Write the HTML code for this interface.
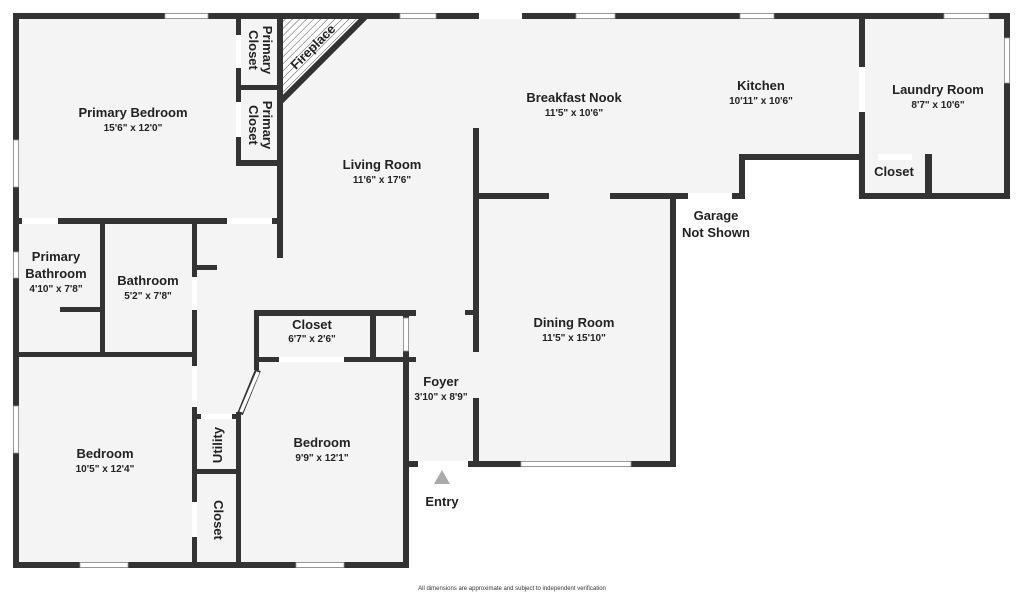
<!DOCTYPE html>
<html><head><meta charset="utf-8"><style>
html,body{margin:0;padding:0;background:#fff;}
svg{display:block;}
text{font-family:"Liberation Sans",sans-serif;font-weight:bold;fill:#222;text-anchor:middle;}
.n{font-size:13px;}
.d{font-size:10px;}
</style></head><body>
<svg width="1024" height="594" viewBox="0 0 1024 594" xmlns="http://www.w3.org/2000/svg">
<defs>
<pattern id="h" width="5" height="5" patternUnits="userSpaceOnUse" patternTransform="rotate(45)">
<rect width="5" height="5" fill="#fff"/><line x1="0" y1="0" x2="0" y2="5" stroke="#555" stroke-width="1"/>
</pattern>
</defs>
<polygon points="13,13 1010,13 1010,198 858,198 858,157 741,157 741,198 672,198 672,466 408,466 408,568 13,568" fill="#f4f4f4"/>
<g fill="#333">
<!-- outer -->
<rect x="13" y="13" width="997" height="6"/>
<rect x="1004" y="13" width="6" height="186"/>
<rect x="13" y="13" width="6" height="555"/>
<rect x="13" y="562" width="396" height="6"/>
<rect x="859" y="193" width="151" height="6"/>
<rect x="859" y="13" width="6" height="186"/>
<rect x="739" y="154" width="126" height="6"/>
<rect x="739" y="154" width="6" height="45"/>
<rect x="925" y="154" width="7" height="45"/>
<rect x="610" y="193" width="135" height="6"/>
<rect x="670" y="193" width="6" height="274"/>
<rect x="473" y="193" width="76" height="6"/>
<rect x="473" y="128" width="6" height="224"/>
<rect x="465" y="310" width="10" height="5"/>
<rect x="473" y="398" width="6" height="68"/>
<rect x="408" y="461" width="268" height="6"/>
<rect x="403" y="351" width="6" height="217"/>
<rect x="254" y="310" width="162" height="6"/>
<rect x="254" y="310" width="5" height="60"/>
<rect x="254" y="357" width="162" height="5"/>
<rect x="370" y="310" width="6" height="52"/>
<rect x="403" y="310" width="6" height="52"/>
<rect x="236" y="412" width="5" height="156"/>
<rect x="193" y="414" width="48" height="5"/>
<rect x="193" y="469" width="48" height="5"/>
<rect x="192" y="222" width="5" height="346"/>
<rect x="192" y="265" width="25" height="5"/>
<rect x="13" y="352" width="184" height="5"/>
<rect x="100" y="220" width="5" height="137"/>
<rect x="60" y="307" width="45" height="5"/>
<rect x="13" y="218" width="267" height="6"/>
<rect x="277" y="13" width="6" height="245"/>
<rect x="236" y="13" width="5" height="153"/>
<rect x="236" y="85" width="47" height="5"/>
<rect x="236" y="160" width="47" height="6"/>
</g>
<!-- openings (white) -->
<g fill="#fff">
<rect x="479" y="13" width="43" height="6"/>
<rect x="859" y="67" width="6" height="45"/>
<rect x="878" y="154" width="34" height="6"/>
<rect x="688" y="193" width="44" height="6"/>
<rect x="418" y="461" width="50" height="6"/>
<rect x="279" y="357" width="65" height="5"/>
<rect x="201" y="414" width="31" height="5"/>
<rect x="192" y="277" width="5" height="33"/>
<rect x="192" y="366" width="5" height="41"/>
<rect x="192" y="502" width="5" height="35"/>
<rect x="22" y="218" width="36" height="6"/>
<rect x="227" y="218" width="45" height="6"/>
<rect x="236" y="35" width="5" height="33"/>
<rect x="236" y="102" width="5" height="35"/>
</g>
<!-- windows -->
<g fill="#fff" stroke="#999" stroke-width="0.8">
<rect x="165" y="13.5" width="43" height="5"/>
<rect x="400" y="13.5" width="36" height="5"/>
<rect x="576" y="13.5" width="39" height="5"/>
<rect x="740" y="13.5" width="34" height="5"/>
<rect x="944" y="13.5" width="45" height="5"/>
<rect x="1004.5" y="38" width="5" height="45"/>
<rect x="521" y="461.5" width="110" height="5"/>
<rect x="403.5" y="318" width="5" height="33"/>
<rect x="13.5" y="140" width="5" height="47"/>
<rect x="13.5" y="252" width="5" height="26"/>
<rect x="13.5" y="406" width="5" height="47"/>
<rect x="80" y="562.5" width="48" height="5"/>
<rect x="296" y="562.5" width="48" height="5"/>
</g>
<line x1="258" y1="370" x2="240" y2="414" stroke="#333" stroke-width="6"/>
<line x1="258" y1="372" x2="241" y2="412" stroke="#fff" stroke-width="3.5"/>
<!-- fireplace -->
<polygon points="283,19 362,19 283,98" fill="url(#h)"/>
<line x1="367" y1="15" x2="281" y2="101" stroke="#333" stroke-width="6"/>
<polygon points="434,484 450,484 442,470" fill="#aaa"/>
<text class="n" x="133" y="117">Primary Bedroom</text><text class="d" x="133" y="131">15'6" x 12'0"</text>
<text class="n" x="382" y="169">Living Room</text><text class="d" x="382" y="183">11'6" x 17'6"</text>
<text class="n" x="574" y="102">Breakfast Nook</text><text class="d" x="574" y="116">11'5" x 10'6"</text>
<text class="n" x="761" y="90">Kitchen</text><text class="d" x="761" y="104">10'11" x 10'6"</text>
<text class="n" x="938" y="94">Laundry Room</text><text class="d" x="938" y="108">8'7" x 10'6"</text>
<text class="n" x="894" y="176">Closet</text>
<text class="n" x="716" y="220">Garage</text><text class="n" x="716" y="237">Not Shown</text>
<text class="n" x="56" y="261">Primary</text><text class="n" x="56" y="278">Bathroom</text><text class="d" x="56" y="292">4'10" x 7'8"</text>
<text class="n" x="148" y="285">Bathroom</text><text class="d" x="148" y="299">5'2" x 7'8"</text>
<text class="n" x="312" y="329">Closet</text><text class="d" x="312" y="342">6'7" x 2'6"</text>
<text class="n" x="574" y="327">Dining Room</text><text class="d" x="574" y="341">11'5" x 15'10"</text>
<text class="n" x="441" y="386">Foyer</text><text class="d" x="441" y="400">3'10" x 8'9"</text>
<text class="n" x="322" y="447">Bedroom</text><text class="d" x="322" y="461">9'9" x 12'1"</text>
<text class="n" x="105" y="458">Bedroom</text><text class="d" x="105" y="472">10'5" x 12'4"</text>
<text class="n" x="442" y="506">Entry</text>
<text class="n" transform="translate(222,445) rotate(-90)">Utility</text>
<text class="n" transform="translate(214,520) rotate(90)">Closet</text>
<text class="n" transform="translate(263,50) rotate(90)">Primary</text>
<text class="n" transform="translate(249,50) rotate(90)">Closet</text>
<text class="n" transform="translate(263,125) rotate(90)">Primary</text>
<text class="n" transform="translate(249,125) rotate(90)">Closet</text>
<text class="n" transform="translate(316,50) rotate(-45)">Fireplace</text>
<text x="512" y="590" style="font-size:6px;font-weight:normal;fill:#333">All dimensions are approximate and subject to independent verification</text>
</svg>
</body></html>
